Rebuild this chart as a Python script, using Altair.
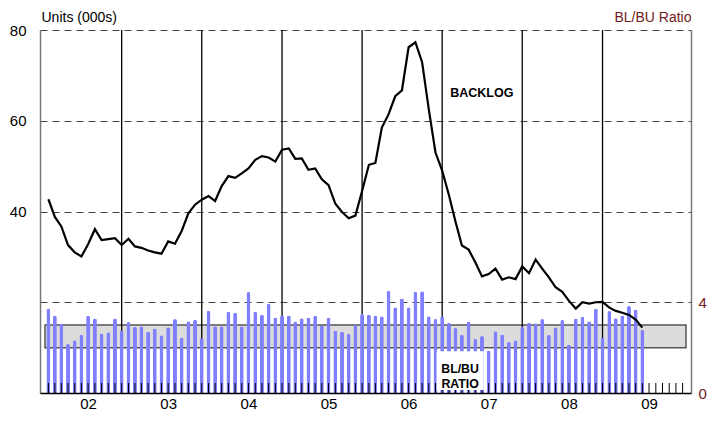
import altair as alt
import pandas as pd
from datetime import datetime

# ---------------- data ----------------
first_year, first_month = 2002, 1
axis_start_year, axis_end_year = 2002, 2010
year_labels = list(range(2002, 2010))
december_lines = list(range(2002, 2009))

# BL/BU ratio, monthly Jan 2002 .. Jun 2009 (right scale)
ratio = [3.73, 3.41, 3.06, 2.16, 2.32, 2.57, 3.41, 3.28, 2.62, 2.68, 3.28, 2.75,
         3.13, 2.91, 2.94, 2.70, 2.84, 2.55, 2.90, 3.26, 2.45, 3.16, 3.23, 2.41,
         3.62, 2.94, 2.94, 3.58, 3.54, 2.94, 4.45, 3.58, 3.45, 3.93, 3.33, 3.42,
         3.42, 3.15, 3.29, 3.33, 3.41, 2.97, 3.33, 2.75, 2.70, 2.61, 3.01, 3.48,
         3.45, 3.42, 3.38, 4.51, 3.78, 4.17, 3.78, 4.46, 4.49, 3.38, 3.26, 3.38,
         3.09, 2.86, 2.57, 3.15, 2.39, 2.51, 1.87, 2.72, 2.58, 2.25, 2.33, 2.91,
         3.10, 3.07, 3.26, 2.57, 2.90, 3.22, 2.13, 3.28, 3.36, 3.16, 3.71, 2.45,
         3.61, 3.30, 3.42, 3.83, 3.68, 2.78]

# Backlog, units (000s), monthly Jan 2002 .. Jun 2009 (left scale)
backlog = [42.7, 38.8, 36.7, 32.6, 31.0, 30.1, 32.8, 36.1, 33.7, 33.9, 34.1, 32.6,
           34.0, 32.3, 32.0, 31.4, 31.0, 30.7, 33.4, 32.9, 35.7, 39.6, 41.5, 42.6,
           43.4, 42.3, 45.6, 47.8, 47.4, 48.4, 49.5, 51.4, 52.2, 51.9, 51.0, 53.6,
           53.9, 51.6, 51.7, 49.2, 49.5, 47.1, 45.8, 41.7, 39.9, 38.5, 39.1, 44.5,
           50.3, 50.7, 58.5, 61.4, 65.4, 66.7, 76.2, 77.3, 72.9, 62.5, 53.0, 49.0,
           43.6, 37.8, 32.5, 31.6, 28.8, 25.7, 26.2, 27.4, 25.0, 25.5, 25.1, 27.9,
           26.4, 29.4, 27.4, 25.5, 23.3, 22.3, 20.3, 18.6, 20.0, 19.7, 20.0, 20.1,
           18.8, 18.1, 17.7, 17.2, 16.2, 14.4]

band_lo, band_hi = 2, 3
left_domain = [0, 80]
right_domain = [0, 16]
left_ticks = [20, 40, 60, 80]
right_ticks = [0, 4]

# annotations (date, value)
backlog_label = {"text": "BACKLOG", "date": (2007, 6, 15), "value": 66.2}
ratio_label = {"text": "BL/BU\nRATIO", "date": (2007, 3, 8), "value": 1.05}
ratio_box = {"d1": (2006, 11, 21), "d2": (2007, 6, 24), "lo": 0.13, "hi": 1.84}


# ---------------- helpers ----------------
def month_add(y, m, k):
    t = (y * 12 + (m - 1)) + k
    return t // 12, t % 12 + 1


def mid_month(y, m):
    a = datetime(y, m, 1)
    ny, nm = month_add(y, m, 1)
    b = datetime(ny, nm, 1)
    return (a + (b - a) / 2).strftime("%Y-%m-%dT%H:%M:%S")


def iso(t):
    return datetime(*t).strftime("%Y-%m-%dT%H:%M:%S")


bar_dates = [mid_month(*month_add(first_year, first_month, i)) for i in range(len(ratio))]
n_axis_months = (axis_end_year - axis_start_year) * 12
tick_dates = [mid_month(*month_add(axis_start_year, 1, i)) for i in range(n_axis_months)]

df = pd.DataFrame({"date": bar_dates, "ratio": ratio, "backlog": backlog})
ticks_df = pd.DataFrame({"date": tick_dates})
dec_df = pd.DataFrame({"date": [mid_month(y, 12) for y in december_lines]})
band_df = pd.DataFrame({"s": [iso((axis_start_year, 1, 1))], "e": [iso((axis_end_year, 1, 1))],
                        "lo": [band_lo], "hi": [band_hi]})
box_df = pd.DataFrame({"s": [iso(ratio_box["d1"])], "e": [iso(ratio_box["d2"])],
                       "lo": [ratio_box["lo"]], "hi": [ratio_box["hi"]]})
blabel_df = pd.DataFrame({"date": [iso(backlog_label["date"])], "v": [backlog_label["value"]],
                          "t": [backlog_label["text"]]})
rlabel_df = pd.DataFrame({"date": [iso(ratio_label["date"])], "v": [ratio_label["value"]],
                          "t": [ratio_label["text"]]})

# ---------------- layout ----------------
W, H = 651, 363
TICK_LEN = 10
FONT = "Liberation Sans"
RED = "#702020"

xscale = alt.Scale(domain=[alt.DateTime(year=axis_start_year, month=1, date=1),
                           alt.DateTime(year=axis_end_year, month=1, date=1)])
xaxis = alt.Axis(values=[alt.DateTime(year=y, month=7, date=16, hours=12) for y in year_labels],
                 format="%y", ticks=False, grid=False, labelPadding=3, labelFontSize=15,
                 labelColor="black", domainColor="black", domainWidth=1.5, title=None,
                 zindex=1, labelFont=FONT)


def X(field):
    return alt.X(field, type="temporal", scale=xscale, axis=xaxis)


lscale = alt.Scale(domain=left_domain, nice=False, zero=True)
rscale = alt.Scale(domain=right_domain, nice=False, zero=True)


def YL(field, axis=None):
    return alt.Y(field, type="quantitative", scale=lscale, axis=axis)


def YR(field, axis=None):
    return alt.Y(field, type="quantitative", scale=rscale, axis=axis)


left_axis = alt.Axis(orient="left", values=left_ticks,
                     labelExpr="datum.value >= 40 ? datum.label : ''",
                     grid=True, gridDash=[7, 5], gridColor="#444", gridWidth=1,
                     ticks=False, domainColor="#777", domainWidth=1.5,
                     labelPadding=14, labelFontSize=15, labelColor="black", labelFont=FONT,
                     title="Units (000s)", titleAngle=0, titleAlign="left",
                     titleBaseline="alphabetic", titleX=1, titleY=-9,
                     titleFontWeight="normal", titleFontSize=14, titleColor="black",
                     titleFont=FONT)

right_axis = alt.Axis(orient="right", values=right_ticks, ticks=False, grid=False,
                      domainColor="#777", domainWidth=1.5, labelPadding=7,
                      labelFontSize=15, labelColor=RED, labelFont=FONT,
                      title="BL/BU Ratio", titleAngle=0, titleAlign="right",
                      titleBaseline="alphabetic", titleX=0, titleY=-9,
                      titleFontWeight="normal", titleFontSize=14, titleColor=RED,
                      titleFont=FONT)

# ---------------- layers ----------------
band = alt.Chart(band_df).mark_rect(fill="#DCDCDC", stroke="#555", strokeWidth=1.5).encode(
    x=X("s"), x2="e", y=YR("lo"), y2="hi")

dec_rules = alt.Chart(dec_df).mark_rule(color="black", strokeWidth=1.3).encode(x=X("date"))

bars = alt.Chart(df).mark_bar(width=4, color="#8080FF", cornerRadiusTopLeft=2,
                              cornerRadiusTopRight=2).encode(
    x=X("date"), y=YR("ratio", right_axis))

month_ticks = alt.Chart(ticks_df).mark_rule(color="black", strokeWidth=1).encode(
    x=X("date"), y=alt.value(H - TICK_LEN), y2=alt.value(H))

line = alt.Chart(df).mark_line(color="black", strokeWidth=2.2).encode(
    x=X("date"), y=YL("backlog", left_axis))

box = alt.Chart(box_df).mark_rect(fill="white").encode(
    x=X("s"), x2="e", y=YR("lo"), y2="hi")

blabel = alt.Chart(blabel_df).mark_text(font=FONT, fontSize=12.5, fontWeight="bold",
                                        align="center", baseline="middle", color="black").encode(
    x=X("date"), y=YL("v"), text="t:N")

rlabel = alt.Chart(rlabel_df).mark_text(font=FONT, fontSize=12.3, fontWeight="bold",
                                        align="center", baseline="middle", color="black",
                                        lineBreak="\n", lineHeight=15).encode(
    x=X("date"), y=YR("v"), text="t:N")

chart = alt.layer(band, dec_rules, bars, month_ticks, line, box, blabel, rlabel).resolve_scale(
    y="independent"
).properties(
    width=W, height=H,
    autosize=alt.AutoSizeParams(type="none"),
    padding={"left": 32, "top": 22, "right": 17, "bottom": 18},
).configure(font=FONT).configure_view(stroke=None)

chart.save("out.html", embed_options={"renderer": "svg", "actions": False})
